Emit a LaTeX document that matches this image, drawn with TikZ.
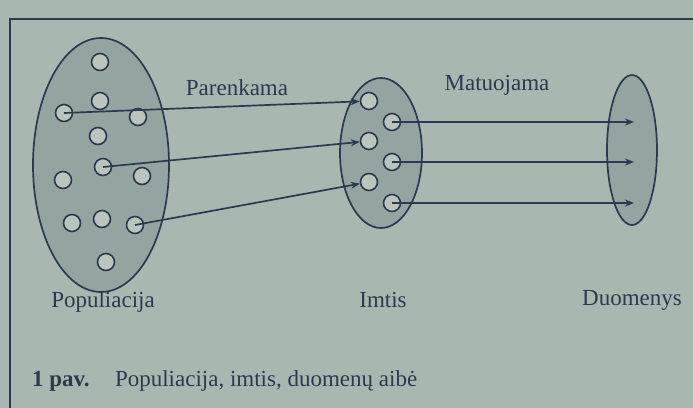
\documentclass[tikz,border=0pt]{standalone}
\usepackage{fontspec}
\setmainfont{Liberation Serif}
\usepackage{xcolor}
\usetikzlibrary{shapes.geometric,arrows.meta}
\definecolor{paper}{HTML}{A9B7B1}
\definecolor{shade}{HTML}{94A4A1}
\definecolor{ink}{HTML}{2C3A4E}
\definecolor{dotfill}{HTML}{B9C5BD}

\begin{document}
\begin{tikzpicture}[x=0.5pt,y=-0.5pt,
  unit/.style={circle, draw=ink, line width=0.8pt, fill=dotfill, minimum size=8.5pt, inner sep=0pt},
  set/.style={ellipse, draw=ink, line width=0.85pt, fill=shade, inner sep=0pt},
  link/.style={draw=ink, line width=0.85pt, -{Stealth[length=4.5pt,width=3.5pt]}},
  lbl/.style={text=ink, font=\fontsize{11.5}{13}\selectfont}]
\useasboundingbox (0,0) rectangle (693,408);
\fill[paper] (0,0) rectangle (693,408);
\draw[ink, line width=0.8pt] (693,19) -- (10,19) -- (10,408);

% Populiacija
\node[set, minimum width=68pt, minimum height=127pt] (pop) at (101,165) {};
\node[unit] (p1) at (100,62) {};
\node[unit] (p2) at (100,101) {};
\node[unit] (p3) at (64,113) {};
\node[unit] (p4) at (138,117) {};
\node[unit] (p5) at (98,136) {};
\node[unit] (p6) at (103,167) {};
\node[unit] (p7) at (63,180) {};
\node[unit] (p8) at (142,176) {};
\node[unit] (p9) at (72,223) {};
\node[unit] (p10) at (102,219) {};
\node[unit] (p11) at (135,225) {};
\node[unit] (p12) at (106,262) {};

% Imtis
\node[set, minimum width=41pt, minimum height=75pt] (smp) at (381,153) {};
\node[unit] (s1) at (369,101) {};
\node[unit] (s2) at (392,122) {};
\node[unit] (s3) at (369,141) {};
\node[unit] (s4) at (392,162) {};
\node[unit] (s5) at (369,182) {};
\node[unit] (s6) at (392,203) {};

% Duomenys
\node[set, minimum width=25pt, minimum height=75pt] (dat) at (632,150) {};
\coordinate (d1) at (634,122);
\coordinate (d2) at (634,162);
\coordinate (d3) at (634,203);

% arrows
\draw[link] (p3.center) -- (s1);
\draw[link] (p6.center) -- (s3);
\draw[link] (p11.center) -- (s5);
\draw[link] (s2.center) -- (d1);
\draw[link] (s4.center) -- (d2);
\draw[link] (s6.center) -- (d3);

\node[lbl] (sel) at (237,88) {Parenkama};
\node[lbl] (meas) at (497,85) {Matuojama};
\node[lbl] (popname) at (103,302) {Populiacija};
\node[lbl] (smpname) at (383,300) {Imtis};
\node[lbl] (datname) at (632,300) {Duomenys};

\node[lbl, anchor=west, font=\fontsize{11.5}{13}\selectfont\bfseries] (capnum) at (25,381) {1 pav.};
\node[lbl, anchor=west] (captxt) at (108,381) {Populiacija, imtis, duomenų aibė};
\end{tikzpicture}
\end{document}
